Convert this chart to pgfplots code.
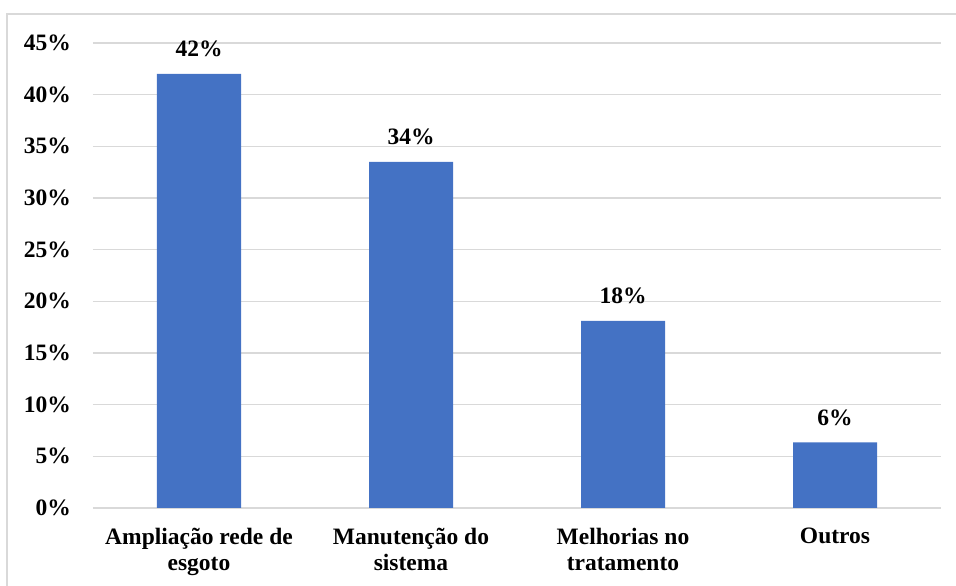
\documentclass[border=0pt]{standalone}
\usepackage{fontspec}
\setmainfont{Liberation Serif}
\usepackage{pgfplots}
\pgfplotsset{compat=1.18}
\definecolor{barblue}{HTML}{4472C4}
\definecolor{gridgray}{RGB}{217,217,217}
\begin{document}
\begin{tikzpicture}[x=1pt,y=1pt]
\useasboundingbox (0,0) rectangle (956,586);
\draw[gridgray, line width=1.2pt] (7,0) -- (7,572) -- (956,572);
\begin{axis}[
  at={(93pt,78pt)}, anchor=south west,
  scale only axis, width=848pt, height=465pt,
  xmin=-0.5, xmax=3.5, ymin=0, ymax=45,
  axis line style={draw=none},
  major tick length=0pt,
  ymajorgrids, grid style={gridgray, line width=1.2pt},
  ytick={0,5,...,45},
  yticklabels={0\%,5\%,10\%,15\%,20\%,25\%,30\%,35\%,40\%,45\%},
  yticklabel style={font=\fontsize{23.5}{26}\selectfont\bfseries, anchor=east, inner sep=0pt, xshift=-22pt},
  xtick={0,1,2,3},
  xticklabels={{Ampliação rede de\\esgoto},{Manutenção do\\sistema},{Melhorias no\\tratamento},{Outros}},
  xticklabel style={font=\fontsize{23.5}{26}\selectfont\bfseries, align=center, anchor=north, inner sep=0pt, yshift=-20pt},
  nodes near coords,
  point meta=explicit symbolic,
  every node near coord/.append style={font=\fontsize{23.5}{26}\selectfont\bfseries, anchor=south, inner sep=0pt, text depth=0pt, yshift=17pt},
]
\addplot[ybar, bar width=84pt, fill=barblue, draw=none] coordinates {
  (0,42.0) [42\%]
  (1,33.5) [34\%]
  (2,18.1) [18\%]
  (3,6.35) [6\%]
};
\end{axis}
\end{tikzpicture}
\end{document}
